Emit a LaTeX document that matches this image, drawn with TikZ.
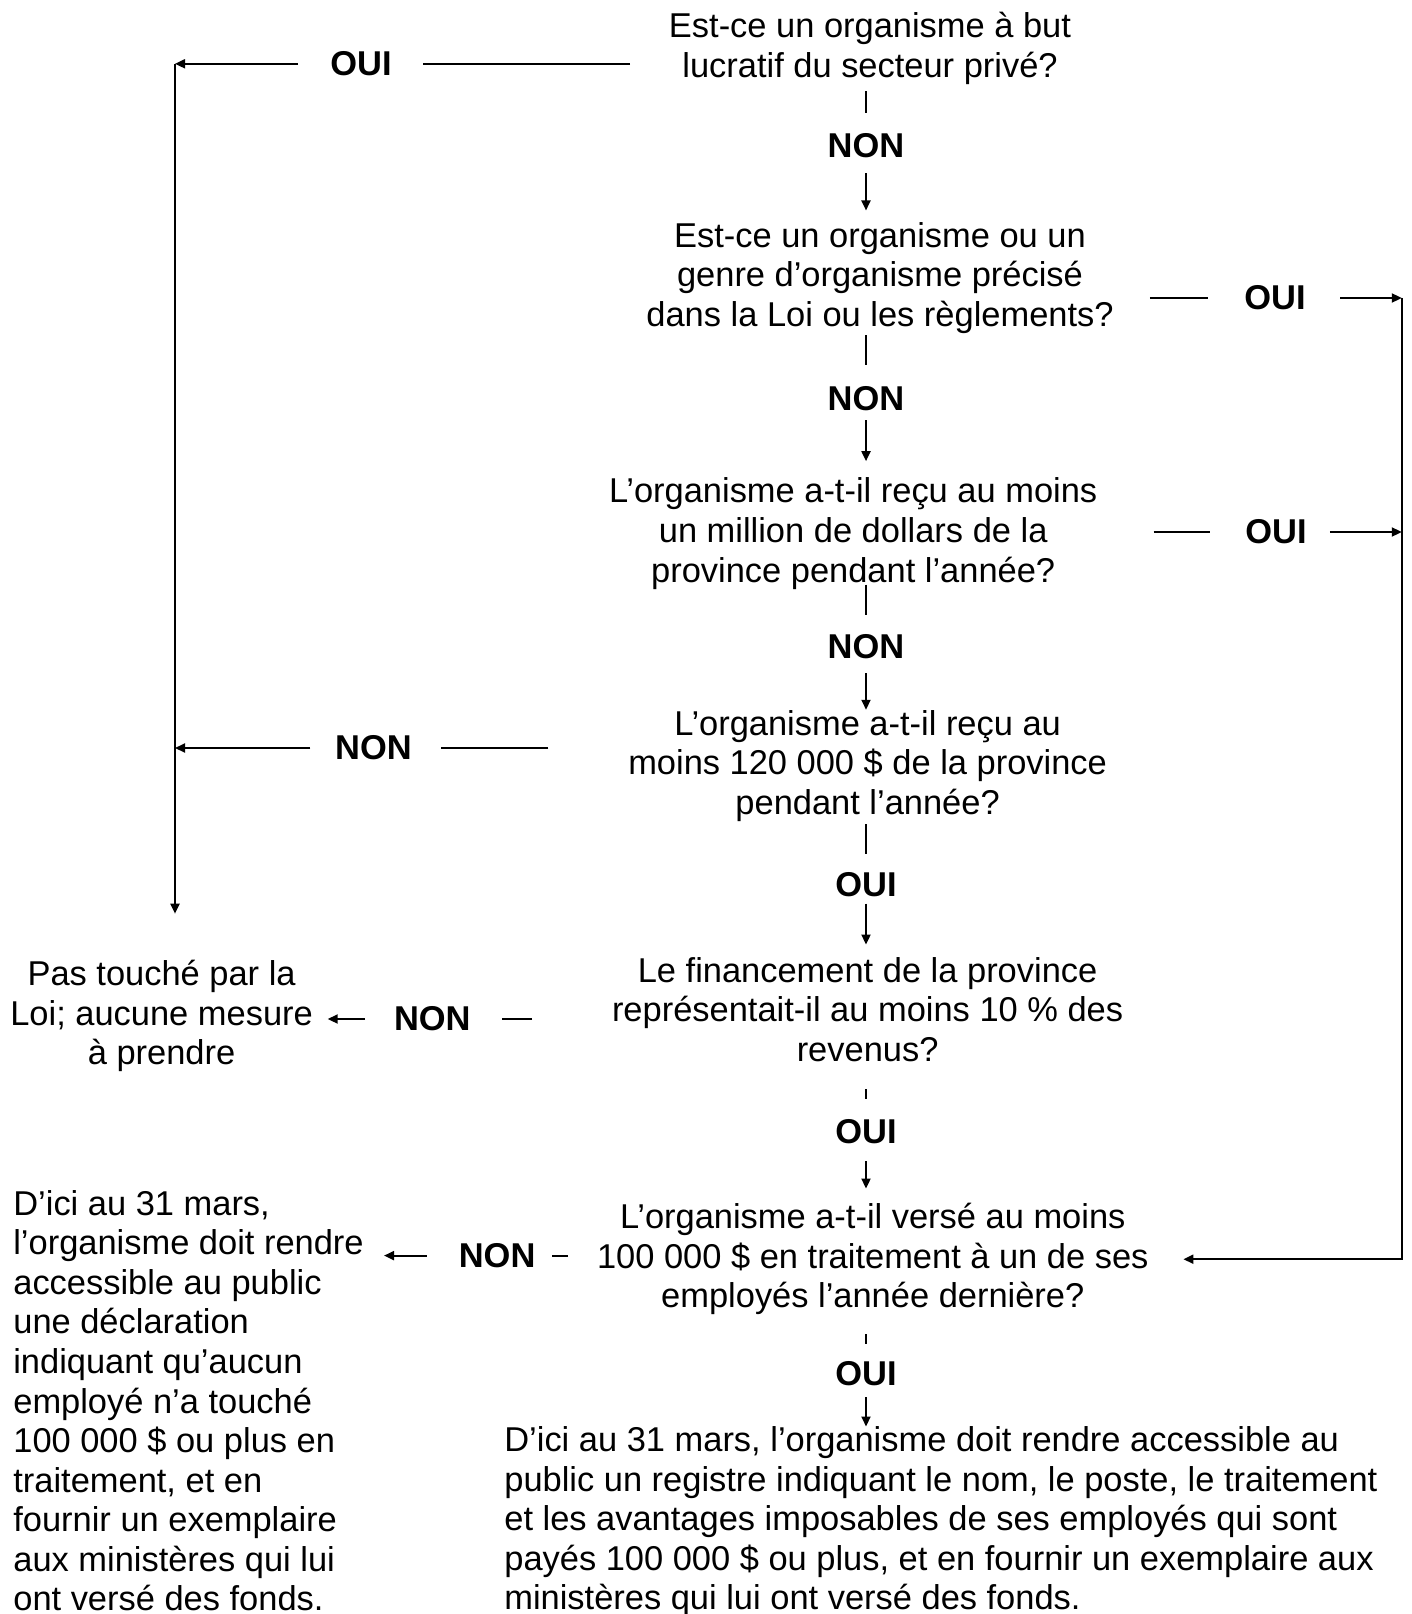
\documentclass[tikz,border=0pt]{standalone}
\usepackage{fontspec}
\setmainfont{Liberation Sans}
\usepackage{tikz}
\usetikzlibrary{arrows.meta, calc}
\newcommand{\taille}{\fontsize{19.6pt}{22.5pt}\selectfont}

\begin{document}
\begin{tikzpicture}[
    trait/.style={line width=1.1pt},
    fleche/.style={trait, -{Triangle[length=2mm, width=1.8mm]}},
    question/.style={font=\taille, align=center, inner sep=0pt},
    texte/.style={font=\taille, align=left, inner sep=0pt, anchor=north west},
    rep/.style={font=\taille\bfseries, inner sep=0pt}
  ]
    \useasboundingbox (0,0) rectangle (28.22,-32.28);
    % Questions
    \node[question] (q1) at (17.40, -0.966) {Est-ce un organisme à but\\lucratif du secteur privé?};
    \node[question] (q2) at (17.60, -5.558) {Est-ce un organisme ou un\\genre d’organisme précisé\\dans la Loi ou les règlements?};
    \node[question] (q3) at (17.064, -10.672) {L’organisme a-t-il reçu au moins\\un million de dollars de la\\province pendant l’année?};
    \node[question] (q4) at (17.352, -15.314) {L’organisme a-t-il reçu au\\moins 120~000~\$ de la province\\pendant l’année?};
    \node[question] (q5) at (17.352, -20.192) {Le financement de la province\\représentait-il au moins 10~\% des\\revenus?};
    \node[question] (q6) at (17.456, -25.184) {L’organisme a-t-il versé au moins\\100~000~\$ en traitement à un de ses\\employés l’année dernière?};
    % Issues
    \node[question] (res1) at (3.232, -20.326) {Pas touché par la\\Loi; aucune mesure\\à prendre};
    \node[texte] (res2) at (0.26, -23.80) {D’ici au 31 mars,\\l’organisme doit rendre\\accessible au public\\une déclaration\\indiquant qu’aucun\\employé n’a touché\\100~000~\$ ou plus en\\traitement, et en\\fournir un exemplaire\\aux ministères qui lui\\ont versé des fonds.};
    \node[texte] (res3) at (10.08, -28.53) {D’ici au 31 mars, l’organisme doit rendre accessible au\\public un registre indiquant le nom, le poste, le traitement\\et les avantages imposables de ses employés qui sont\\payés 100~000~\$ ou plus, et en fournir un exemplaire aux\\ministères qui lui ont versé des fonds.};
    % Reponses
    \node[rep] (non1) at (17.32, -2.922) {NON};
    \node[rep] (non2) at (17.32, -7.966) {NON};
    \node[rep] (non3) at (17.32, -12.926) {NON};
    \node[rep] (oui4) at (17.32, -17.702) {OUI};
    \node[rep] (oui5) at (17.32, -22.642) {OUI};
    \node[rep] (oui6) at (17.32, -27.48) {OUI};
    \node[rep] (oui1) at (7.22, -1.276) {OUI};
    \node[rep] (oui2) at (25.50, -5.96) {OUI};
    \node[rep] (oui3) at (25.52, -10.64) {OUI};
    \node[rep] (non4) at (7.47, -14.96) {NON};
    \node[rep] (non5) at (8.646, -20.38) {NON};
    \node[rep] (non6) at (9.942, -25.112) {NON};
    \coordinate (coin) at (3.50, -1.276);
    \coordinate (droite) at (28.036, -5.96);
    % Colonne centrale
    \draw[trait, shorten <=0.13cm, shorten >=0.41cm] (q1.south -| non1) -- (non1);
    \draw[fleche, shorten <=0.29cm, shorten >=0.23cm] (non1) -- (q2.north -| non1);
    \draw[trait, shorten <=0.03cm, shorten >=0.41cm] (q2.south -| non2) -- (non2);
    \draw[fleche, shorten <=0.19cm, shorten >=0.33cm] (non2) -- (q3.north -| non2);
    \draw[trait, shorten <=-0.10cm, shorten >=0.37cm] (q3.south -| non3) -- (non3);
    \draw[fleche, shorten <=0.29cm] (non3) -- (q4.north -| non3);
    \draw[trait, shorten <=0.05cm, shorten >=0.37cm] (q4.south -| oui4) -- (oui4);
    \draw[fleche, shorten <=0.12cm, shorten >=0.25cm] (oui4) -- (q5.north -| oui4);
    \draw[trait, shorten <=0.54cm, shorten >=0.41cm] (q5.south -| oui5) -- (oui5);
    \draw[fleche, shorten <=0.33cm, shorten >=0.29cm] (oui5) -- (q6.north -| oui5);
    \draw[trait, shorten <=0.38cm, shorten >=0.35cm] (q6.south -| oui6) -- (oui6);
    \draw[fleche, shorten <=0.21cm] (oui6) -- (res3.north -| oui6);
    % Branche gauche
    \draw[trait, shorten <=0.77cm, shorten >=0.63cm] (q1.west |- oui1) -- (oui1);
    \draw[fleche, shorten <=0.64cm] (oui1) -- (coin);
    \draw[fleche, shorten >=0.93cm] (coin) -- (coin |- res1.north);
    \draw[trait, shorten <=1.59cm, shorten >=0.57cm] (q4.west |- non4) -- (non4);
    \draw[fleche, shorten <=0.49cm] (non4) -- (coin |- non4);
    \draw[trait, shorten <=1.59cm, shorten >=0.63cm] (q5.west |- non5) -- (non5);
    \draw[fleche, shorten <=0.57cm, shorten >=0.29cm] (non5) -- (res1.east |- non5);
    \draw[trait, shorten <=0.57cm, shorten >=0.32cm] (q6.west |- non6) -- (non6);
    \draw[fleche, shorten <=0.63cm, shorten >=0.40cm] (non6) -- (res2.east |- non6);
    % Branche droite
    \draw[trait, shorten <=0.72cm, shorten >=0.73cm] (q2.east |- oui2) -- (oui2);
    \draw[fleche, shorten <=0.69cm] (oui2) -- (droite);
    \draw[trait, shorten <=1.12cm, shorten >=0.70cm] (q3.east |- oui3) -- (oui3);
    \draw[fleche, shorten <=0.46cm] (oui3) -- (droite |- oui3);
    \draw[fleche, shorten >=0.69cm] (droite) |- (q6.east);
\end{tikzpicture}
\end{document}
